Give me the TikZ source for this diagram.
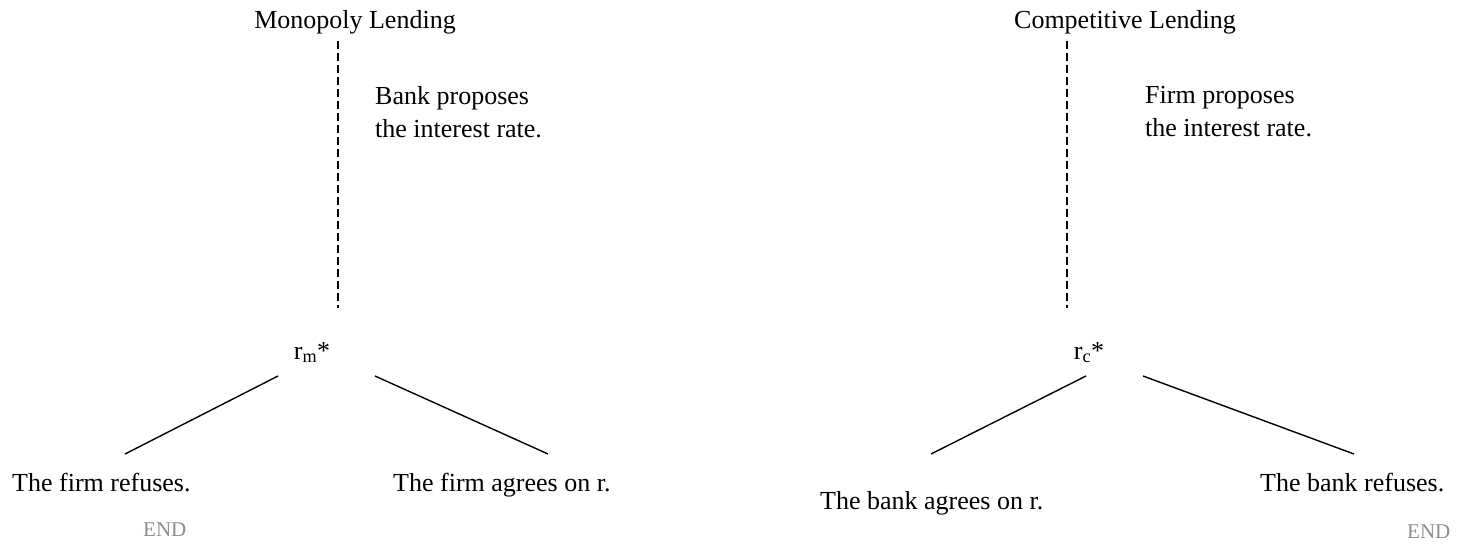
\documentclass[tikz,border=0pt]{standalone}
\usepackage{fontspec}
\setmainfont{Liberation Serif}
\definecolor{endgray}{gray}{0.55}
\tikzset{
  txt/.style={inner sep=0pt, font=\fontsize{26}{33}\selectfont},
  endtxt/.style={inner sep=0pt, font=\fontsize{21}{25}\selectfont, text=endgray},
  branch/.style={line width=1.4pt},
  stem/.style={line width=1.4pt, dash pattern=on 8pt off 4pt}
}
\begin{document}
\begin{tikzpicture}[x=1pt,y=-1pt]
\useasboundingbox (0,0) rectangle (1471,543);
% ---- Monopoly lending ----
\node[txt, anchor=base] (mtitle) at (355,29) {Monopoly Lending};
\coordinate (mtop) at (338,41);
\coordinate (mbot) at (338,308);
\draw[stem] (mtop) -- (mbot);
\node[txt, anchor=north west, align=left] (mprop) at (375,86) {Bank proposes\\the interest rate.};
\node[txt, anchor=base] (rm) at (312,359) {r\textsubscript{m}*};
\coordinate (mla) at (278,376);
\coordinate (mlb) at (125,454);
\coordinate (mra) at (375,376);
\coordinate (mrb) at (548,454);
\draw[branch] (mla) -- (mlb);
\draw[branch] (mra) -- (mrb);
\node[txt, anchor=base west] (mref) at (12,491) {The firm refuses.};
\node[txt, anchor=base west] (magr) at (393,491) {The firm agrees on r.};
\node[endtxt, anchor=base west] (mend) at (143,536) {END};
% ---- Competitive lending ----
\node[txt, anchor=base] (ctitle) at (1125,29) {Competitive Lending};
\coordinate (ctop) at (1067,41);
\coordinate (cbot) at (1067,308);
\draw[stem] (ctop) -- (cbot);
\node[txt, anchor=north west, align=left] (cprop) at (1145,86) {Firm proposes\\the interest rate.};
\node[txt, anchor=base] (rc) at (1089,359) {r\textsubscript{c}*};
\coordinate (cla) at (1086,376);
\coordinate (clb) at (931,454);
\coordinate (cra) at (1143,376);
\coordinate (crb) at (1354,454);
\draw[branch] (cla) -- (clb);
\draw[branch] (cra) -- (crb);
\node[txt, anchor=base west] (cagr) at (820,509) {The bank agrees on r.};
\node[txt, anchor=base west] (cref) at (1260,491) {The bank refuses.};
\node[endtxt, anchor=base west] (cend) at (1407,538) {END};
\end{tikzpicture}
\end{document}
